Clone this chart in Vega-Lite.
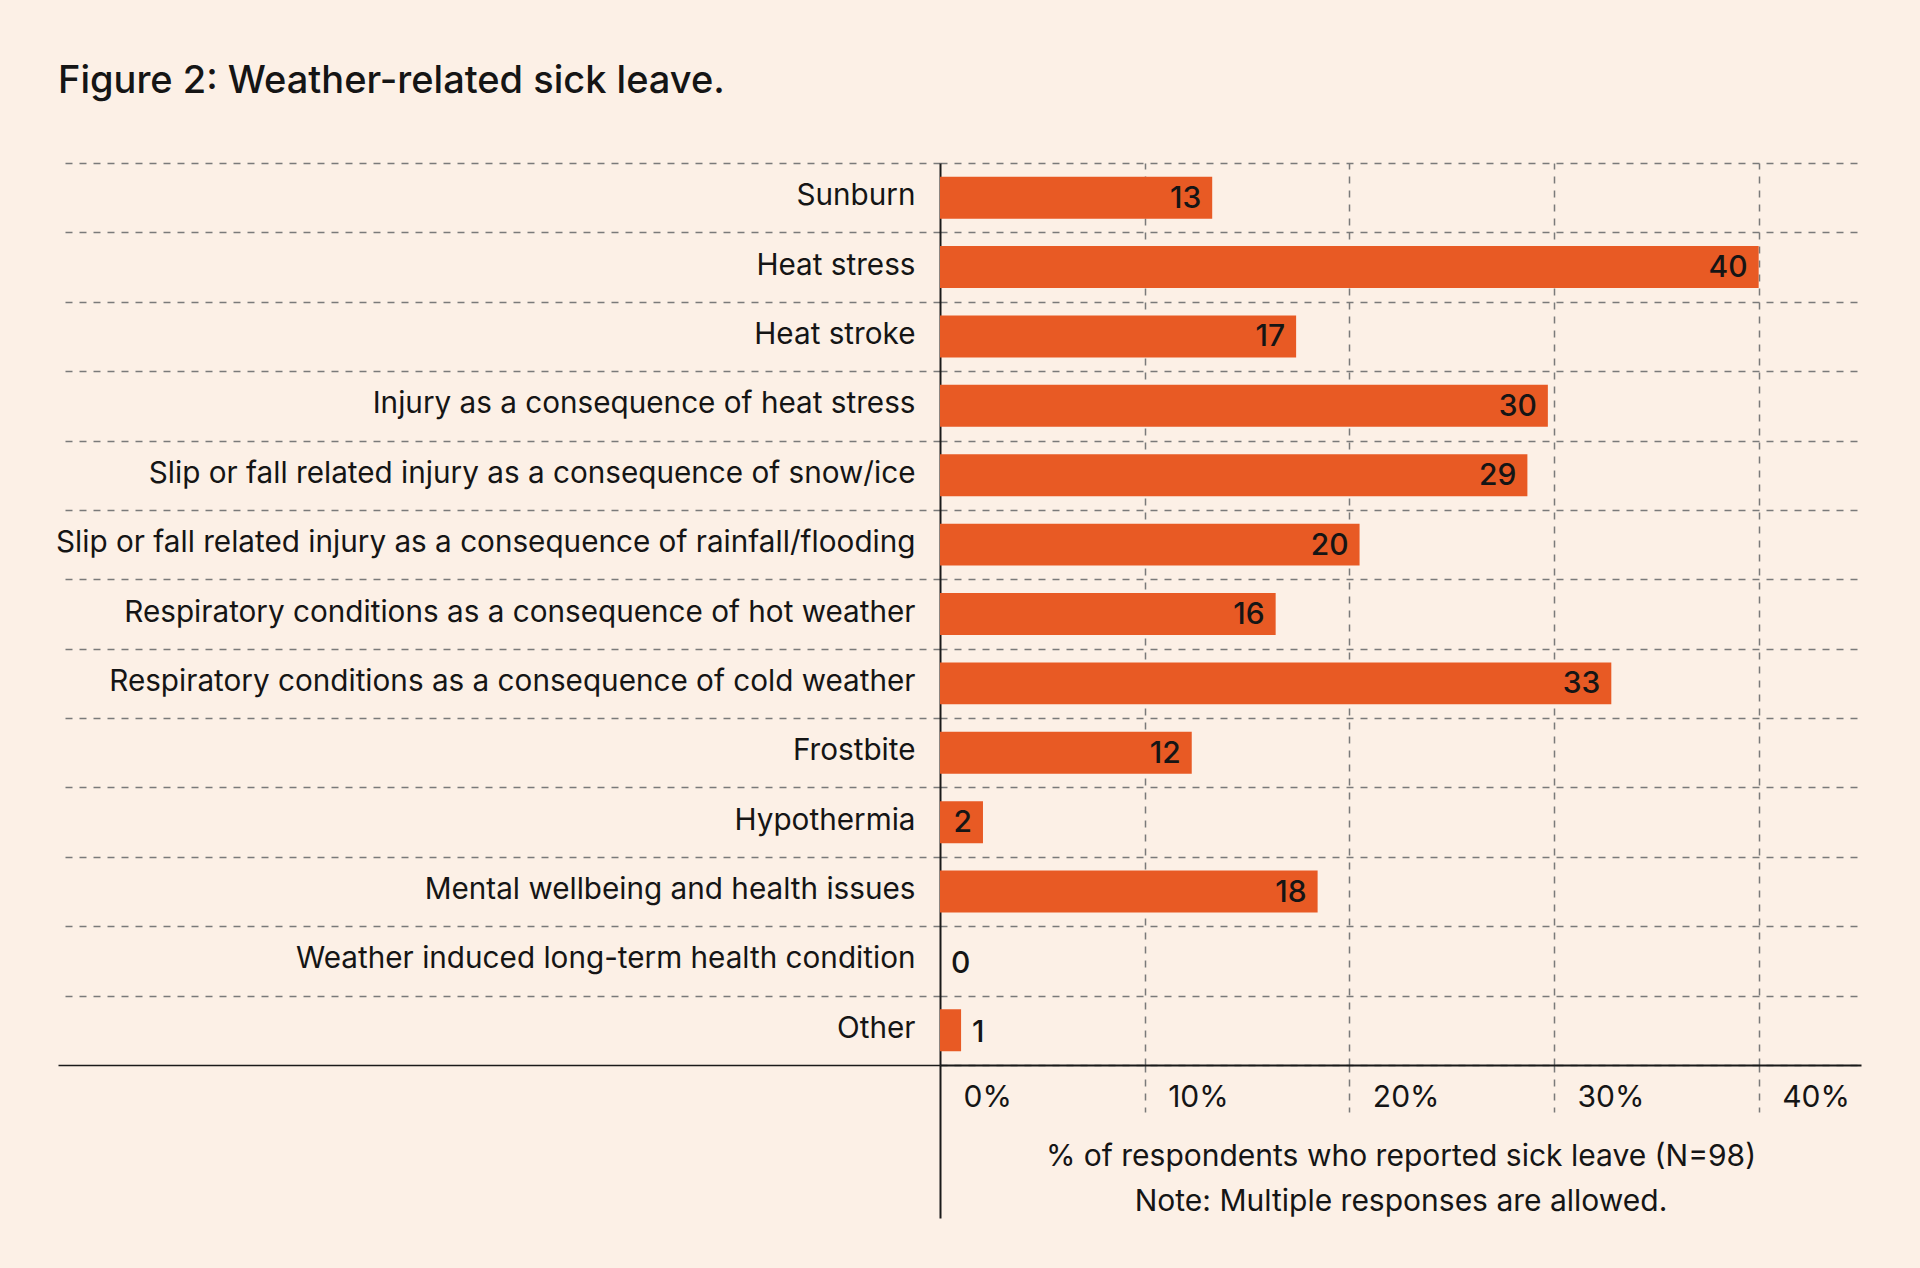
{
  "$schema": "https://vega.github.io/schema/vega-lite/v6.json",
  "autosize": {"type": "none"},
  "width": 921,
  "height": 902,
  "padding": {"left": 940, "top": 163, "right": 59, "bottom": 203},
  "background": "#fcf0e6",
  "title": {
    "text": "Figure 2: Weather-related sick leave.",
    "anchor": "start",
    "frame": "group",
    "dx": -882,
    "offset": 17,
    "baseline": "alphabetic",
    "font": "Inter",
    "fontSize": 38,
    "fontWeight": 500,
    "color": "#151515"
  },
  "data": {
    "values": [
      {"cause": "Sunburn", "pct": 13.3, "label": 13},
      {"cause": "Heat stress", "pct": 40.0, "label": 40},
      {"cause": "Heat stroke", "pct": 17.4, "label": 17},
      {"cause": "Injury as a consequence of heat stress", "pct": 29.7, "label": 30},
      {"cause": "Slip or fall related injury as a consequence of snow/ice", "pct": 28.7, "label": 29},
      {"cause": "Slip or fall related injury as a consequence of rainfall/flooding", "pct": 20.5, "label": 20},
      {"cause": "Respiratory conditions as a consequence of hot weather", "pct": 16.4, "label": 16},
      {"cause": "Respiratory conditions as a consequence of cold weather", "pct": 32.8, "label": 33},
      {"cause": "Frostbite", "pct": 12.3, "label": 12},
      {"cause": "Hypothermia", "pct": 2.1, "label": 2},
      {"cause": "Mental wellbeing and health issues", "pct": 18.45, "label": 18},
      {"cause": "Weather induced long-term health condition", "pct": 0, "label": 0},
      {"cause": "Other", "pct": 1.03, "label": 1}
    ]
  },
  "encoding": {
    "y": {
      "field": "cause",
      "type": "nominal",
      "sort": null,
      "scale": {"paddingInner": 0, "paddingOuter": 0},
      "axis": {
        "title": null,
        "tickBand": "extent",
        "tickSize": 882,
        "tickWidth": 1.5,
        "tickColor": {"condition": {"test": "datum.value === 'Other'", "value": "#1a1a1a"}, "value": "#7a7a7a"},
        "tickDash": {"condition": {"test": "datum.value === 'Other'", "value": []}, "value": [7, 7]},
        "grid": true,
        "gridColor": "#7a7a7a",
        "gridWidth": 1.5,
        "gridDash": [7, 7],
        "domain": true,
        "domainColor": "#1a1a1a",
        "domainWidth": 2,
        "labelPadding": -857,
        "labelOffset": -2,
        "labelAlign": "right",
        "labelBaseline": "middle",
        "labelFont": "Inter",
        "labelFontSize": 29.7,
        "labelFontWeight": 400,
        "labelColor": "#151515",
        "labelLimit": 0
      }
    },
    "x": {
      "field": "pct",
      "type": "quantitative",
      "scale": {"domain": [0, 45], "nice": false},
      "axis": {
        "values": [0, 10, 20, 30, 40],
        "format": "d",
        "labelExpr": "datum.label + '%'",
        "title": ["% of respondents who reported sick leave (N=98)", "Note: Multiple responses are allowed."],
        "titleFont": "Inter",
        "titleFontSize": 30,
        "titleFontWeight": 400,
        "titleColor": "#151515",
        "titleLineHeight": 45,
        "titleBaseline": "top",
        "titleY": 76,
        "grid": true,
        "gridColor": "#7a7a7a",
        "gridWidth": 1.5,
        "gridDash": [7, 7],
        "gridOpacity": {"condition": {"test": "datum.value === 0", "value": 0}, "value": 1},
        "domain": true,
        "domainColor": "#1a1a1a",
        "domainWidth": 2,
        "tickSize": {"condition": {"test": "datum.value === 0", "value": 153}, "value": 47},
        "tickWidth": {"condition": {"test": "datum.value === 0", "value": 2}, "value": 1.5},
        "tickColor": {"condition": {"test": "datum.value === 0", "value": "#1a1a1a"}, "value": "#7a7a7a"},
        "tickDash": {"condition": {"test": "datum.value === 0", "value": []}, "value": [7, 7]},
        "labelPadding": {"condition": {"test": "datum.value === 0", "value": -136}, "value": -30},
        "labelAlign": "left",
        "labelBaseline": "top",
        "labelOffset": 23,
        "labelFlush": false,
        "labelOverlap": false,
        "labelFont": "Inter",
        "labelFontSize": 30,
        "labelColor": "#151515"
      }
    }
  },
  "layer": [
    {
      "mark": {"type": "bar", "color": "#e85a24", "height": {"band": 0.605}}
    },
    {
      "transform": [{"filter": "datum.label >= 2"}],
      "mark": {"type": "text", "align": "right", "baseline": "middle", "dx": -11, "dy": 1, "font": "Inter", "fontSize": 30, "fontWeight": 500, "color": "#151515"},
      "encoding": {"text": {"field": "label", "type": "quantitative"}}
    },
    {
      "transform": [{"filter": "datum.label < 2"}],
      "mark": {"type": "text", "align": "left", "baseline": "middle", "dx": 11, "dy": 3, "font": "Inter", "fontSize": 30, "fontWeight": 500, "color": "#151515"},
      "encoding": {"text": {"field": "label", "type": "quantitative"}}
    }
  ],
  "config": {
    "view": {"stroke": null}
  }
}
